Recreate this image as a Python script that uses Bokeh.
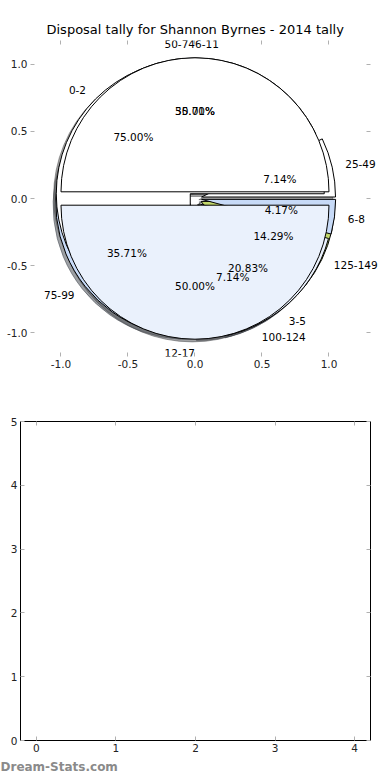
import numpy as np
from bokeh.plotting import figure
from bokeh.models import (ColumnDataSource, LabelSet, Range1d, FixedTicker, LinearAxis, Title,
                          PrintfTickFormatter)
from bokeh.core.properties import field, value
from bokeh.embed import file_html
from bokeh.resources import INLINE

# ---------------- data ----------------
title_text = "Disposal tally for Shannon Byrnes - 2014 tally"
watermark_text = "Dream-Stats.com"

disposal_labels = ["25-49", "50-74", "75-99", "100-124", "125-149"]
disposal_counts = [1, 5, 5, 1, 2]

handball_labels = ["0-2", "3-5", "6-8"]
handball_counts = [18, 5, 1]

kick_labels = ["6-11", "12-17"]
kick_counts = [7, 7]

pie_ticks = [-1.0, -0.5, 0.0, 0.5, 1.0]
empty_x_ticks = [0, 1, 2, 3, 4]
empty_y_ticks = [0, 1, 2, 3, 4, 5]

# ---------------- style ----------------
colors = ["#FFFFFF", "#EAF1FC", "#C7DAF7", "#A9C4EE", "#C3D86B"]
EXPLODE = 0.05
LABEL_DIST = 1.1
PCT_DIST = 0.6
SHADOW_OFF = 0.02
FONT = "DejaVu Sans"
TEXT_SIZE = "10.5px"
TICK_COLOR = "#b0b0b0"


def shade(hexcol, rho=0.3):
    r, g, b = (int(hexcol[i:i + 2], 16) for i in (1, 3, 5))
    return "#%02x%02x%02x" % (int(r * rho), int(g * rho), int(b * rho))


def pie_source(labels, counts):
    fr = (np.asarray(counts, dtype=np.float32) / np.float32(sum(counts))).astype(float)
    d = dict(start=[], end=[], x=[], y=[], sx=[], sy=[], color=[], shadow=[],
             lx=[], ly=[], align=[], px=[], py=[], label=[], pct=[])
    t1 = 0.0
    for i, (f, lab) in enumerate(zip(fr, labels)):
        t2 = t1 + f
        tm = np.pi * (t1 + t2)
        cx = EXPLODE * np.cos(tm)
        cy = EXPLODE * np.sin(tm)
        d["start"].append(2 * np.pi * t1)
        d["end"].append(2 * np.pi * t2)
        d["x"].append(cx)
        d["y"].append(cy)
        d["sx"].append(cx - SHADOW_OFF)
        d["sy"].append(cy - SHADOW_OFF)
        col = colors[i % len(colors)]
        d["color"].append(col)
        d["shadow"].append(shade(col))
        xt = cx + LABEL_DIST * np.cos(tm)
        d["lx"].append(xt)
        d["ly"].append(cy + LABEL_DIST * np.sin(tm))
        d["align"].append("left" if xt > 0 else "right")
        d["px"].append(cx + PCT_DIST * np.cos(tm))
        d["py"].append(cy + PCT_DIST * np.sin(tm))
        d["label"].append(lab)
        d["pct"].append("%1.2f%%" % (100.0 * f))
        t1 = t2
    return ColumnDataSource(d)


pies = [pie_source(disposal_labels, disposal_counts),
        pie_source(handball_labels, handball_counts),
        pie_source(kick_labels, kick_counts)]


def style_axis(ax, ticks, fmt=None):
    ax.ticker = FixedTicker(ticks=ticks)
    if fmt:
        ax.formatter = PrintfTickFormatter(format=fmt)
    ax.axis_line_color = None
    ax.major_tick_in = 4
    ax.major_tick_out = 0
    ax.major_tick_line_color = TICK_COLOR
    ax.minor_tick_line_color = None
    ax.major_label_text_font = FONT
    ax.major_label_text_font_size = TEXT_SIZE
    ax.major_label_text_color = "#222222"
    ax.major_label_standoff = 3


def tick_only_axis(ticks, fixed=None):
    return LinearAxis(ticker=FixedTicker(ticks=ticks), axis_line_color=None,
                      major_tick_in=4, major_tick_out=0, major_tick_line_color=TICK_COLOR,
                      minor_tick_line_color=None, major_label_text_font_size="1px",
                      major_label_text_color=None, major_label_standoff=0,
                      fixed_location=fixed)


# ---------------- top: pie ----------------
p = figure(width=390, height=376,
           x_range=Range1d(-1.2276, 1.459), y_range=Range1d(-1.179, 1.179),
           output_backend="svg", toolbar_location=None,
           min_border_left=30, min_border_right=0, min_border_top=40, min_border_bottom=20,
           title=title_text)
p.title.text_font = FONT
p.title.text_font_size = "13px"
p.title.text_font_style = "normal"
p.title.text_color = "black"
p.title.align = "left"
p.title.offset = 16
p.title.standoff = 7
p.outline_line_color = None
p.grid.visible = False
p.background_fill_color = "white"
p.border_fill_color = "white"

style_axis(p.xaxis[0], pie_ticks, "%.1f")
style_axis(p.yaxis[0], pie_ticks, "%.1f")
p.add_layout(tick_only_axis(pie_ticks), "above")
p.add_layout(tick_only_axis(pie_ticks, fixed=1.31), "right")

for src in pies:
    p.wedge(x="sx", y="sy", radius=1.0, start_angle="start", end_angle="end",
            direction="anticlock", source=src, fill_color="shadow", fill_alpha=0.5,
            line_color="shadow", line_alpha=0.5, line_width=1)
for src in pies:
    p.wedge(x="x", y="y", radius=1.0, start_angle="start", end_angle="end",
            direction="anticlock", source=src, fill_color="color",
            line_color="black", line_width=1)
for src in pies:
    p.add_layout(LabelSet(x="lx", y="ly", text="label", source=src, text_align=field("align"),
                          text_baseline="middle", text_font=value(FONT),
                          text_font_size=value(TEXT_SIZE), text_color=value("black")))
    p.add_layout(LabelSet(x="px", y="py", text="pct", source=src, text_align=value("center"),
                          text_baseline=value("middle"), text_font=value(FONT),
                          text_font_size=value(TEXT_SIZE), text_color=value("black")))

# ---------------- bottom: empty axes ----------------
q = figure(width=390, height=404,
           x_range=Range1d(-0.2, 4.2), y_range=Range1d(0, 5),
           output_backend="svg", toolbar_location=None,
           min_border_left=20, min_border_right=20, min_border_top=45, min_border_bottom=40)
q.outline_line_color = "black"
q.outline_line_width = 1
q.grid.visible = False
q.background_fill_color = "white"
q.border_fill_color = "white"
style_axis(q.xaxis[0], empty_x_ticks)
style_axis(q.yaxis[0], empty_y_ticks)
q.add_layout(tick_only_axis(empty_x_ticks), "above")
q.add_layout(tick_only_axis(empty_y_ticks), "right")
q.add_layout(Title(text=watermark_text, align="left", text_font=FONT, text_font_size="12px",
                   text_font_style="bold", text_color="#8a8a8a", offset=-20, standoff=6), "below")

open("out.html", "w").write(file_html([p, q], INLINE))
